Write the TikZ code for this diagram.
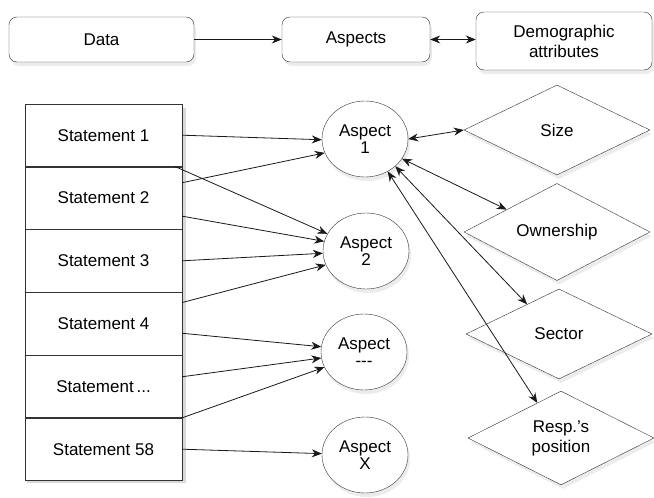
\documentclass[tikz,border=0pt]{standalone}
\usepackage{fontspec}
\setmainfont{Liberation Sans}
\usetikzlibrary{positioning, shapes.geometric, shadows, arrows.meta, calc}

\begin{document}
\begin{tikzpicture}[
         x=1pt, y=-1pt,
         font=\fontsize{17}{20}\selectfont,
         shade/.style={drop shadow={shadow xshift=2pt, shadow yshift=-4pt, fill=black!15}},
         stage/.style={rectangle, rounded corners=8pt, draw=black!80, fill=white, shade, align=center, inner sep=0pt},
         statement/.style={rectangle, draw=black!80, fill=white, minimum width=157pt, minimum height=62.4pt, inner sep=0pt},
         aspect/.style={ellipse, draw=black!80, fill=white, shade, minimum width=86pt, minimum height=76pt, inner sep=0pt, align=center},
         attribute/.style={diamond, draw=black!80, fill=white, shade, minimum width=186pt, minimum height=90pt, inner sep=0pt, align=center},
         link/.style={-{Stealth[length=10pt, width=8pt]}, line width=0.8pt, black!90},
         twoway/.style={{Stealth[length=10pt, width=8pt]}-{Stealth[length=10pt, width=8pt]}, line width=0.8pt, black!90}
      ]
         \useasboundingbox (0,0) rectangle (654,498);

         % Nodes for the top row
         \node[stage, minimum width=185pt, minimum height=45pt] (data) at (101.5,39.5) {Data};
         \node[stage, minimum width=148pt, minimum height=45pt] (aspects) at (356,39.5) {Aspects};
         \node[stage, minimum width=176pt, minimum height=58pt] (demo) at (564,41) {Demographic\\attributes};

         % Statement column, with one shadow behind it
         \fill[black!15] (27,108) rectangle (186,483);
         \node[statement] (s1) at (103.5,135.2) {Statement 1};
         \node[statement] (s2) [below=0pt of s1] {Statement 2};
         \node[statement] (s3) [below=0pt of s2] {Statement 3};
         \node[statement] (s4) [below=0pt of s3] {Statement 4};
         \node[statement] (s5) [below=0pt of s4] {Statement\,...};
         \node[statement] (s6) [below=0pt of s5] {Statement 58};

         % Nodes for aspects
         \node[aspect] (a1) at (365,139) {Aspect\\[-3pt]1};
         \node[aspect] (a2) at (366,251) {Aspect\\[-3pt]2};
         \node[aspect] (a3) at (364,352) {Aspect\\[-3pt]-{}-{}-};
         \node[aspect] (ax) at (365,455) {Aspect\\[-3pt]X};

         % Nodes for attributes
         \node[attribute] (size) at (557,130) {Size};
         \node[attribute] (own) at (557,232) {Ownership};
         \node[attribute] (sec) at (559,334) {Sector};
         \node[attribute] (resp) at (561,438) {Resp.'s\\position};

         % Arrows of the top row
         \draw[link] (data) -- (aspects);
         \draw[twoway] (aspects.east) -- (demo.west |- aspects.east);

         % Arrows from statements to aspects
         \draw[link] (s1.east) -- (a1.181);
         \draw[link] (s2.11) -- (a1.199);
         \draw[link] ([xshift=-7pt]s1.south east) -- (a2.156);
         \draw[link] (s2.-13) -- (a2.167);
         \draw[link] (s3.east) -- (a2.183);
         \draw[link] (s4.15) -- (a2.199);
         \draw[link] (s4.-7) -- (a3.173);
         \draw[link] (s5.7) -- (a3.188);
         \draw[link] (s5.south east) -- (a3.201);
         \draw[link] (s6.east) -- (ax);

         % Arrows between aspect 1 and attributes
         \draw[twoway] (a1.east) -- (size.west);
         \draw[twoway] (a1.-28) -- (own.156);
         \draw[twoway] (a1.-42) -- (sec.137);
         \draw[twoway] (a1.-55) -- (resp.124);
      \end{tikzpicture}
\end{document}
